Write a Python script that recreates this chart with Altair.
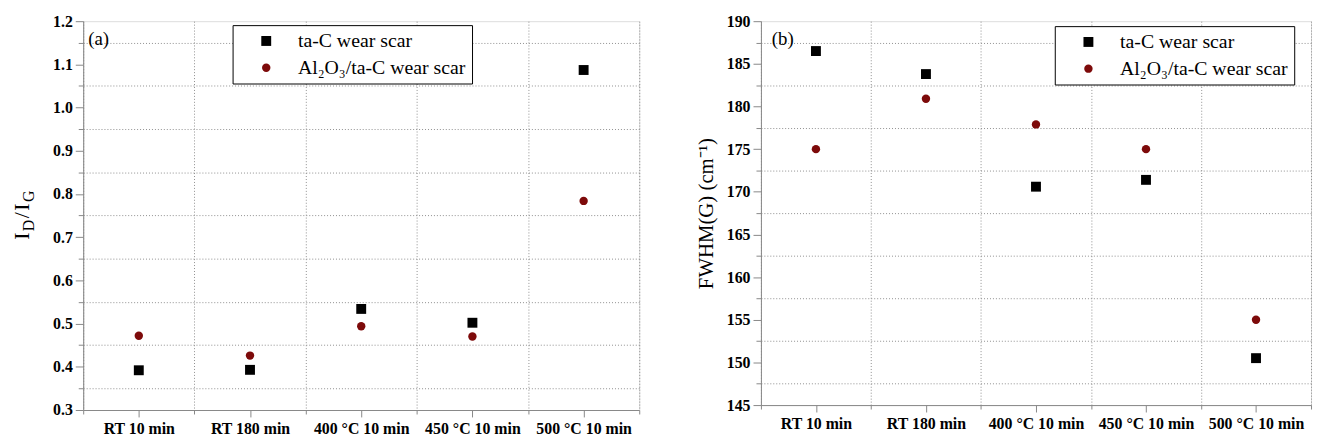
import altair as alt
import pandas as pd

# ---------------- data ----------------
categories = ["RT 10 min", "RT 180 min", "400 °C 10 min", "450 °C 10 min", "500 °C 10 min"]
series_names = ["ta-C wear scar", "Al₂O₃/ta-C wear scar"]

idg_tac = [0.392, 0.393, 0.534, 0.502, 1.087]
idg_al = [0.472, 0.426, 0.494, 0.470, 0.784]

fwhm_tac = [186.5, 183.8, 170.6, 171.4, 150.5]
fwhm_al = [175.0, 180.9, 177.9, 175.0, 155.0]

left_ticks = [round(0.3 + 0.05 * i, 2) for i in range(19)]
right_ticks = [145 + 2.5 * i for i in range(19)]
x_ticks = [-0.5 + 0.5 * i for i in range(11)]

FONT = "Liberation Serif"
RED = "#7d0a0a"
GRID = "#8f8f8f"


def make_df(a, b):
    rows = []
    for i, c in enumerate(categories):
        rows.append({"idx": i, "cat": c, "series": series_names[0], "v": a[i]})
        rows.append({"idx": i, "cat": c, "series": series_names[1], "v": b[i]})
    return pd.DataFrame(rows)


cat_js = "[" + ",".join("'" + c + "'" for c in categories) + "]"

x_axis = alt.Axis(
    values=x_ticks,
    labelExpr=f"datum.value % 1 == 0 ? {cat_js}[datum.value] : ''",
    grid=True, gridColor=GRID, gridDash=[1, 2], gridWidth=1,
    gridOpacity={"condition": {"test": "datum.value % 1 != 0", "value": 1}, "value": 0},
    tickSize={"condition": {"test": "datum.value % 1 == 0", "value": 7}, "value": 4},
    title=None,
    labelFont=FONT, labelFontSize=16, labelFontWeight="bold", labelColor="black",
    labelPadding=4, labelFlush=False, labelOverlap=False,
)

x_enc = alt.X("idx:Q", scale=alt.Scale(domain=[-0.5, 4.5], nice=False, zero=False), axis=x_axis)

size_enc = alt.Size("series:N", scale=alt.Scale(domain=series_names, range=[100, 72]), legend=None)


def legend_for(lx, ly):
    return alt.Legend(
        title=None, orient="none", legendX=lx, legendY=ly,
        strokeColor="black", fillColor="white", padding=6,
        symbolOffset=18, labelOffset=22, symbolSize=90, rowPadding=7,
        labelFont=FONT, labelFontSize=20, labelColor="black", labelLimit=400,
        symbolStrokeWidth=0,
    )


def points(df, yfield_scale, yaxis, lx, ly):
    return alt.Chart(df).mark_point(filled=True, opacity=1).encode(
        x=x_enc,
        y=alt.Y("v:Q", scale=yfield_scale, axis=yaxis),
        color=alt.Color("series:N", scale=alt.Scale(domain=series_names, range=["black", RED]),
                        legend=legend_for(lx, ly)),
        shape=alt.Shape("series:N", scale=alt.Scale(domain=series_names, range=["square", "circle"]),
                        legend=legend_for(lx, ly)),
        size=size_enc,
    )


one = pd.DataFrame({"a": [0]})


def txt(s, x, y, size, angle=0, align="left", baseline="alphabetic"):
    kw = dict(font=FONT, fontSize=size, color="black", align=align, baseline=baseline)
    if angle:
        kw["angle"] = angle
    return alt.Chart(one).mark_text(**kw).encode(
        x=alt.value(x), y=alt.value(y), text=alt.value(s)
    )


# ---------------- left panel ----------------
left_yaxis = alt.Axis(
    values=left_ticks,
    labelExpr="round(datum.value*100) % 10 == 0 ? format(datum.value, '.1f') : ''",
    grid=True, gridColor=GRID, gridDash=[1, 2], gridWidth=1,
    gridOpacity={"condition": {"test": "round(datum.value*100) % 10 != 0", "value": 1}, "value": 0},
    tickSize={"condition": {"test": "round(datum.value*100) % 10 == 0", "value": 8}, "value": 5},
    title=None,
    labelFont=FONT, labelFontSize=16, labelFontWeight="bold", labelColor="black", labelPadding=3,
)

left_pts = points(make_df(idg_tac, idg_al),
                  alt.Scale(domain=[0.3, 1.2], nice=False, zero=False), left_yaxis, 151, 4)

# rotated y title I_D/I_G with subscripts
main_sz, sub_sz = 22, 16
base_x, sub_x = -55, -50
pieces = [("I", main_sz, base_x, 7.3), ("D", sub_sz, sub_x, 11.6), ("/", main_sz, base_x, 6.1),
          ("I", main_sz, base_x, 7.3), ("G", sub_sz, sub_x, 11.6)]
ycur = 221
title_layers = []
for s, sz, xx, w in pieces:
    title_layers.append(txt(s, xx, ycur, sz, angle=270))
    ycur -= w + 1.5

left = alt.layer(
    left_pts,
    txt("(a)", 5, 18, 19, baseline="middle"),
    *title_layers,
).properties(width=562, height=393)

# ---------------- right panel ----------------
right_yaxis = alt.Axis(
    values=right_ticks,
    labelExpr="datum.value % 5 == 0 ? format(datum.value, 'd') : ''",
    grid=True, gridColor=GRID, gridDash=[1, 2], gridWidth=1,
    gridOpacity={"condition": {"test": "datum.value % 5 != 0", "value": 1}, "value": 0},
    tickSize={"condition": {"test": "datum.value % 5 == 0", "value": 8}, "value": 5},
    title="FWHM(G) (cm⁻¹)",
    titleFont=FONT, titleFontSize=21, titleFontWeight="normal", titleColor="black",
    titlePadding=10,
    labelFont=FONT, labelFontSize=16, labelFontWeight="bold", labelColor="black", labelPadding=3,
)

right_pts = points(make_df(fwhm_tac, fwhm_al),
                   alt.Scale(domain=[145, 190], nice=False, zero=False), right_yaxis, 297, 5)

right = alt.layer(
    right_pts,
    txt("(b)", 11, 18, 19, baseline="middle"),
).properties(width=556, height=388)

chart = alt.hconcat(left, right, spacing=55).resolve_scale(
    color="independent", shape="independent", size="independent", y="independent", x="independent"
).resolve_legend(color="independent", shape="independent").properties(
    padding={"left": 2, "top": 2, "right": 2, "bottom": 2}
).configure_view(
    stroke="black", strokeWidth=1.5
).configure_axis(
    domainColor="black", domainWidth=1.5, tickColor="black", tickWidth=1.5,
).configure(background="white")

chart.save("out.html", embed_options={"renderer": "svg", "actions": False})
